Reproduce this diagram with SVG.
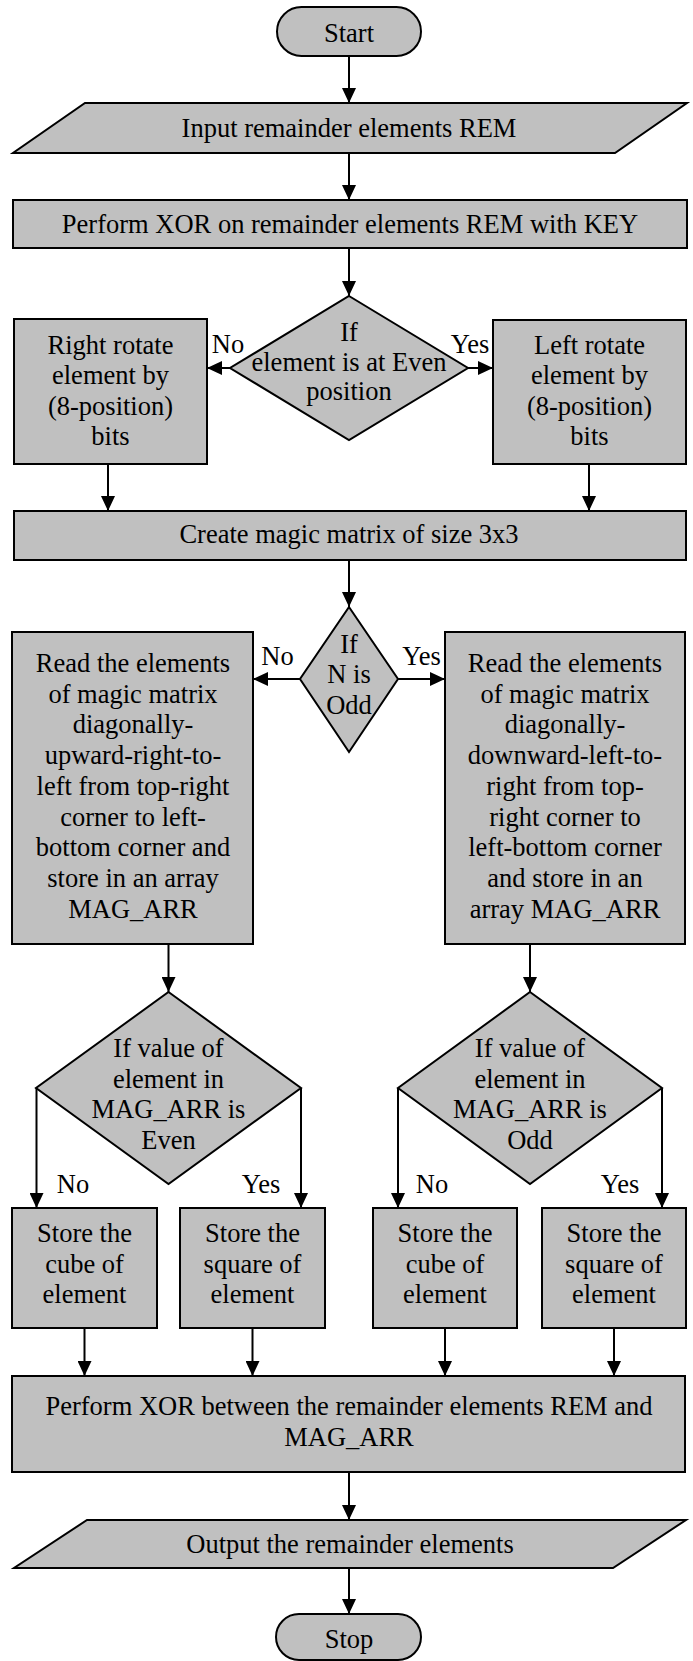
<svg xmlns="http://www.w3.org/2000/svg" width="693" height="1661" viewBox="0 0 693 1661">
  <style>
    .shape { fill: #c0c0c0; stroke: #000; stroke-width: 2; }
    .wire { fill: none; stroke: #000; stroke-width: 2; }
    text { font-family: "Liberation Serif", "Times New Roman", serif; font-size: 26.5px; fill: #000; text-anchor: middle; }
  </style>
  <defs>
    <marker id="arrow" markerUnits="userSpaceOnUse" markerWidth="15" markerHeight="14" refX="15" refY="7" orient="auto">
      <path d="M0,0 L15,7 L0,14 Z" fill="#000"/>
    </marker>
  </defs>
  <rect width="693" height="1661" fill="#fff"/>

  <g id="start">
    <rect class="shape" x="277" y="7" width="144" height="49" rx="24.5" ry="24.5"/>
    <text x="349" y="41.5">Start</text>
  </g>

  <g id="input-rem">
    <polygon class="shape" points="85,103 687,103 615,153 13,153"/>
    <text x="349" y="137">Input remainder elements REM</text>
  </g>

  <g id="xor-key">
    <rect class="shape" x="13" y="200" width="674" height="48"/>
    <text x="350" y="232.5">Perform XOR on remainder elements REM with KEY</text>
  </g>

  <g id="even-position">
    <polygon class="shape" points="349,296 468,368 349,440 230,368"/>
    <text x="349" y="341">If</text>
    <text x="349" y="370.5">element is at Even</text>
    <text x="349" y="400">position</text>
  </g>

  <g id="right-rotate">
    <rect class="shape" x="14" y="319" width="193" height="145"/>
    <text x="110.5" y="354">Right rotate</text>
    <text x="110.5" y="384">element by</text>
    <text x="110.5" y="414.5">(8-position)</text>
    <text x="110.5" y="445">bits</text>
  </g>

  <g id="left-rotate">
    <rect class="shape" x="493" y="320" width="193" height="144"/>
    <text x="589.5" y="354">Left rotate</text>
    <text x="589.5" y="384">element by</text>
    <text x="589.5" y="414.5">(8-position)</text>
    <text x="589.5" y="445">bits</text>
  </g>

  <g id="magic-matrix">
    <rect class="shape" x="14" y="511" width="672" height="49"/>
    <text x="349" y="543">Create magic matrix of size 3x3</text>
  </g>

  <g id="n-odd">
    <polygon class="shape" points="349,607 398,679 349,752 300,679"/>
    <text x="349" y="652.5">If</text>
    <text x="349" y="683">N is</text>
    <text x="349" y="713.5">Odd</text>
  </g>

  <g id="read-upward">
    <rect class="shape" x="12" y="632" width="241" height="312"/>
    <text x="133" y="672">Read the elements</text>
    <text x="133" y="702.7">of magic matrix</text>
    <text x="133" y="733.4">diagonally-</text>
    <text x="133" y="764.1">upward-right-to-</text>
    <text x="133" y="794.8">left from top-right</text>
    <text x="133" y="825.5">corner to left-</text>
    <text x="133" y="856.2">bottom corner and</text>
    <text x="133" y="886.9">store in an array</text>
    <text x="133" y="917.6">MAG_ARR</text>
  </g>

  <g id="read-downward">
    <rect class="shape" x="445" y="632" width="240" height="312"/>
    <text x="565" y="672">Read the elements</text>
    <text x="565" y="702.7">of magic matrix</text>
    <text x="565" y="733.4">diagonally-</text>
    <text x="565" y="764.1">downward-left-to-</text>
    <text x="565" y="794.8">right from top-</text>
    <text x="565" y="825.5">right corner to</text>
    <text x="565" y="856.2">left-bottom corner</text>
    <text x="565" y="886.9">and store in an</text>
    <text x="565" y="917.6">array MAG_ARR</text>
  </g>

  <g id="value-even">
    <polygon class="shape" points="168.5,992 301,1088 168.5,1184 36,1088"/>
    <text x="168.5" y="1057">If value of</text>
    <text x="168.5" y="1087.5">element in</text>
    <text x="168.5" y="1118">MAG_ARR is</text>
    <text x="168.5" y="1148.5">Even</text>
  </g>

  <g id="value-odd">
    <polygon class="shape" points="530,992 662,1088 530,1184 398,1088"/>
    <text x="530" y="1057">If value of</text>
    <text x="530" y="1087.5">element in</text>
    <text x="530" y="1118">MAG_ARR is</text>
    <text x="530" y="1148.5">Odd</text>
  </g>

  <g id="cube-left">
    <rect class="shape" x="12" y="1208" width="145" height="120"/>
    <text x="84.5" y="1242">Store the</text>
    <text x="84.5" y="1272.5">cube of</text>
    <text x="84.5" y="1303">element</text>
  </g>

  <g id="square-left">
    <rect class="shape" x="180" y="1208" width="145" height="120"/>
    <text x="252.5" y="1242">Store the</text>
    <text x="252.5" y="1272.5">square of</text>
    <text x="252.5" y="1303">element</text>
  </g>

  <g id="cube-right">
    <rect class="shape" x="373" y="1208" width="144" height="120"/>
    <text x="445" y="1242">Store the</text>
    <text x="445" y="1272.5">cube of</text>
    <text x="445" y="1303">element</text>
  </g>

  <g id="square-right">
    <rect class="shape" x="542" y="1208" width="144" height="120"/>
    <text x="614" y="1242">Store the</text>
    <text x="614" y="1272.5">square of</text>
    <text x="614" y="1303">element</text>
  </g>

  <g id="xor-mag">
    <rect class="shape" x="12" y="1376" width="673" height="96"/>
    <text x="349" y="1415">Perform XOR between the remainder elements REM and</text>
    <text x="349" y="1446">MAG_ARR</text>
  </g>

  <g id="output-rem">
    <polygon class="shape" points="87,1520 686,1520 613,1568 14,1568"/>
    <text x="350" y="1553">Output the remainder elements</text>
  </g>

  <g id="stop">
    <rect class="shape" x="276" y="1614" width="145" height="46" rx="23" ry="23"/>
    <text x="349" y="1648">Stop</text>
  </g>

  <g id="connectors">
    <line class="wire" x1="349" y1="56" x2="349" y2="103" marker-end="url(#arrow)"/>
    <line class="wire" x1="349" y1="153" x2="349" y2="200" marker-end="url(#arrow)"/>
    <line class="wire" x1="349" y1="248" x2="349" y2="296" marker-end="url(#arrow)"/>
    <line class="wire" x1="230" y1="368" x2="207" y2="368" marker-end="url(#arrow)"/>
    <line class="wire" x1="468" y1="368" x2="493" y2="368" marker-end="url(#arrow)"/>
    <line class="wire" x1="108" y1="464" x2="108" y2="511" marker-end="url(#arrow)"/>
    <line class="wire" x1="589" y1="464" x2="589" y2="511" marker-end="url(#arrow)"/>
    <line class="wire" x1="349" y1="560" x2="349" y2="607" marker-end="url(#arrow)"/>
    <line class="wire" x1="300" y1="679" x2="253" y2="679" marker-end="url(#arrow)"/>
    <line class="wire" x1="398" y1="679" x2="445" y2="679" marker-end="url(#arrow)"/>
    <line class="wire" x1="168.5" y1="944" x2="168.5" y2="992" marker-end="url(#arrow)"/>
    <line class="wire" x1="530" y1="944" x2="530" y2="992" marker-end="url(#arrow)"/>
    <line class="wire" x1="36.5" y1="1088" x2="36.5" y2="1208" marker-end="url(#arrow)"/>
    <line class="wire" x1="301" y1="1088" x2="301" y2="1208" marker-end="url(#arrow)"/>
    <line class="wire" x1="398" y1="1088" x2="398" y2="1208" marker-end="url(#arrow)"/>
    <line class="wire" x1="662" y1="1088" x2="662" y2="1208" marker-end="url(#arrow)"/>
    <line class="wire" x1="84.5" y1="1328" x2="84.5" y2="1376" marker-end="url(#arrow)"/>
    <line class="wire" x1="252.5" y1="1328" x2="252.5" y2="1376" marker-end="url(#arrow)"/>
    <line class="wire" x1="445" y1="1328" x2="445" y2="1376" marker-end="url(#arrow)"/>
    <line class="wire" x1="614" y1="1328" x2="614" y2="1376" marker-end="url(#arrow)"/>
    <line class="wire" x1="349" y1="1472" x2="349" y2="1520" marker-end="url(#arrow)"/>
    <line class="wire" x1="349" y1="1568" x2="349" y2="1614" marker-end="url(#arrow)"/>
  </g>

  <g id="branch-labels">
    <text x="228" y="353">No</text>
    <text x="470" y="353">Yes</text>
    <text x="277.5" y="665">No</text>
    <text x="421.5" y="665">Yes</text>
    <text x="73" y="1193">No</text>
    <text x="261" y="1193">Yes</text>
    <text x="432" y="1193">No</text>
    <text x="620" y="1193">Yes</text>
  </g>
</svg>
